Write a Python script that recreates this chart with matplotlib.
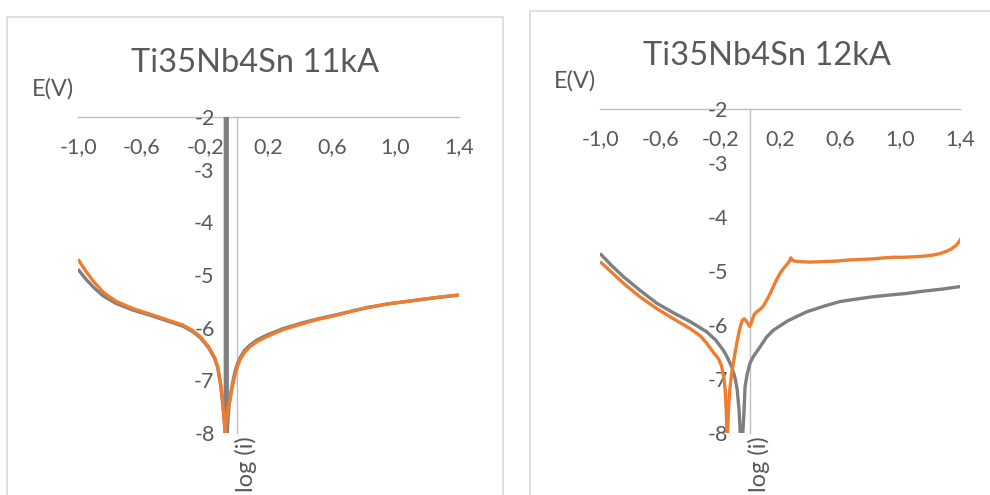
import matplotlib
matplotlib.use("Agg")
import matplotlib.pyplot as plt
from matplotlib.patches import Rectangle
from matplotlib.ticker import FixedLocator, FuncFormatter

plt.rcParams["font.family"] = ["Lato", "DejaVu Sans"]
plt.rcParams["axes.unicode_minus"] = False

# ---- data -----------------------------------------------------------------
x_ticks = [-1.0, -0.6, -0.2, 0.2, 0.6, 1.0, 1.4]
y_ticks = [-8, -7, -6, -5, -4, -3, -2]
titles = ["Ti35Nb4Sn 11kA", "Ti35Nb4Sn 12kA"]

# 11kA, grey series (includes the vertical trace at the corrosion potential)
grey11_x = [-1.0, -0.95, -0.9, -0.84, -0.76, -0.66, -0.55, -0.45, -0.34, -0.28,
            -0.23, -0.18, -0.14, -0.12, -0.10, -0.09, -0.08, -0.072, -0.072,
            -0.060, -0.060, -0.055, -0.047, -0.035, -0.022, -0.008, 0.008, 0.025,
            0.05, 0.083, 0.13, 0.19, 0.29, 0.40, 0.50, 0.62, 0.72, 0.82, 0.95,
            1.05, 1.15, 1.28, 1.4]
grey11_y = [-4.89, -5.08, -5.24, -5.40, -5.54, -5.66, -5.76, -5.86, -5.97, -6.07,
            -6.19, -6.37, -6.58, -6.76, -7.12, -7.40, -7.72, -8.0, -2.0,
            -2.0, -8.0, -7.72, -7.45, -7.20, -6.98, -6.80, -6.66, -6.55,
            -6.43, -6.33, -6.23, -6.14, -6.02, -5.92, -5.84, -5.76, -5.69, -5.62,
            -5.55, -5.51, -5.47, -5.42, -5.38]

# 11kA, orange series
orange11_x = [-1.0, -0.95, -0.9, -0.84, -0.76, -0.66, -0.55, -0.45, -0.34, -0.28,
              -0.23, -0.18, -0.14, -0.12, -0.10, -0.09, -0.08, -0.074,
              -0.065, -0.055, -0.043, -0.03, -0.015, 0.0, 0.02, 0.05, 0.083,
              0.13, 0.19, 0.29, 0.40, 0.50, 0.62, 0.72, 0.82, 0.95, 1.05, 1.15,
              1.28, 1.4]
orange11_y = [-4.70, -4.93, -5.13, -5.33, -5.50, -5.63, -5.74, -5.84, -5.95, -6.05,
              -6.17, -6.35, -6.56, -6.74, -7.10, -7.37, -7.70, -8.0,
              -7.75, -7.55, -7.37, -7.15, -6.95, -6.78, -6.61, -6.47, -6.36,
              -6.26, -6.17, -6.04, -5.94, -5.85, -5.77, -5.69, -5.62, -5.55,
              -5.51, -5.47, -5.42, -5.38]

# 12kA, grey series
grey12_x = [-1.0, -0.92, -0.844, -0.73, -0.622, -0.51, -0.4, -0.289, -0.23, -0.178,
            -0.15, -0.122, -0.10, -0.085, -0.072, -0.065, -0.048, -0.04, -0.033,
            -0.02, 0.0, 0.022, 0.067, 0.11, 0.156, 0.25, 0.378, 0.5, 0.6, 0.72,
            0.822, 0.93, 1.044, 1.15, 1.28, 1.41]
grey12_y = [-4.67, -4.90, -5.10, -5.36, -5.59, -5.77, -5.93, -6.12, -6.27, -6.46,
            -6.60, -6.77, -6.97, -7.20, -7.60, -8.0, -8.0, -7.60, -7.14,
            -6.92, -6.70, -6.58, -6.40, -6.22, -6.09, -5.92, -5.75, -5.64, -5.56,
            -5.51, -5.47, -5.44, -5.41, -5.37, -5.33, -5.28]

# 12kA, orange series
orange12_x = [-1.0, -0.93, -0.844, -0.74, -0.622, -0.51, -0.4, -0.33, -0.289, -0.25,
              -0.21, -0.19, -0.175, -0.165, -0.158, -0.153,
              -0.150, -0.143, -0.135, -0.125, -0.112, -0.100, -0.088, -0.075,
              -0.062, -0.050, -0.038, -0.025, -0.013, -0.003, 0.006, 0.015,
              0.028, 0.045, 0.060, 0.078, 0.092, 0.108, 0.122, 0.140, 0.158,
              0.178, 0.200, 0.222, 0.244, 0.258, 0.268, 0.272, 0.280, 0.295,
              0.33, 0.40, 0.49, 0.58, 0.66, 0.74, 0.82, 0.90, 0.96, 1.03, 1.10,
              1.16, 1.22, 1.27, 1.31, 1.34, 1.37, 1.39, 1.41]
orange12_y = [-4.82, -5.00, -5.22, -5.46, -5.69, -5.88, -6.06, -6.20, -6.33, -6.48,
              -6.62, -6.75, -6.95, -7.20, -7.60, -8.0,
              -8.00, -7.55, -7.20, -6.95, -6.72, -6.52, -6.33, -6.15,
              -6.00, -5.90, -5.88, -5.92, -5.97, -6.02, -5.98, -5.90,
              -5.80, -5.75, -5.72, -5.68, -5.63, -5.55, -5.48, -5.38, -5.27,
              -5.15, -5.04, -4.95, -4.88, -4.83, -4.79, -4.75, -4.79, -4.81,
              -4.82, -4.83, -4.82, -4.81, -4.79, -4.78, -4.77, -4.75, -4.74,
              -4.74, -4.73, -4.72, -4.70, -4.67, -4.63, -4.59, -4.53, -4.47,
              -4.38]

# ---- style ----------------------------------------------------------------
W, H = 990, 495
GREY = "#7F7F7F"
ORANGE = "#ED7D31"
AXIS = "#BFBFBF"
TEXT = "#595959"
FRAME = "#D9D9D9"

fig = plt.figure(figsize=(W / 100, H / 100), dpi=100)


def fx(px):
    return px / W


def fy(py):
    return 1 - py / H


# chart frames
fig.patches.append(Rectangle((fx(7), fy(520)), fx(503 - 7), fy(17) - fy(520),
                             transform=fig.transFigure, fill=False,
                             edgecolor=FRAME, lw=1.2))
fig.patches.append(Rectangle((fx(530), fy(520)), fx(1010 - 530), fy(11) - fy(520),
                             transform=fig.transFigure, fill=False,
                             edgecolor=FRAME, lw=1.2))

panels = [
    dict(box=(78, 459, 117, 433), title=(255, 63), ev=(53, 89), logi=(246, 436),
         series=[(grey11_x, grey11_y, GREY), (orange11_x, orange11_y, ORANGE)]),
    dict(box=(600, 960, 109.3, 433.3), title=(767, 56), ev=(575, 81), logi=(759, 436),
         series=[(grey12_x, grey12_y, GREY), (orange12_x, orange12_y, ORANGE)]),
]

for title, p in zip(titles, panels):
    x0, x1, y0, y1 = p["box"]
    ax = fig.add_axes([fx(x0), fy(y1), fx(x1 - x0), fy(y0) - fy(y1)])
    ax.patch.set_alpha(0)
    ax.set_xlim(-1.0, 1.4)
    ax.set_ylim(-8, -2)

    for xs, ys, c in p["series"]:
        ax.plot(xs, ys, color=c, lw=2.4, solid_joinstyle="round",
                solid_capstyle="butt")

    for s in ("bottom", "right"):
        ax.spines[s].set_visible(False)
    ax.spines["top"].set_color(AXIS)
    ax.spines["top"].set_linewidth(1.0)
    ax.spines["left"].set_color(AXIS)
    ax.spines["left"].set_linewidth(1.0)
    ax.spines["left"].set_position(("data", 0))
    ax.spines["left"].set_zorder(0.5)
    ax.spines["top"].set_zorder(0.5)

    ax.xaxis.set_ticks_position("top")
    ax.xaxis.set_major_locator(FixedLocator(x_ticks))
    ax.xaxis.set_major_formatter(FuncFormatter(lambda v, _: f"{v:.1f}".replace(".", ",")))
    ax.tick_params(axis="x", length=0, pad=-29, labelsize=15.5, labelcolor=TEXT)

    ax.yaxis.set_major_locator(FixedLocator(y_ticks))
    ax.yaxis.set_major_formatter(FuncFormatter(lambda v, _: f"{int(round(v))}"))
    ax.tick_params(axis="y", length=0, pad=16, labelsize=15.5, labelcolor=TEXT)

    fig.text(fx(p["title"][0]), fy(p["title"][1]), title, ha="center", va="center",
             fontsize=23.5, color=TEXT)
    fig.text(fx(p["ev"][0]), fy(p["ev"][1]), "E(V)", ha="center", va="center",
             fontsize=17, color=TEXT)
    fig.text(fx(p["logi"][0]), fy(p["logi"][1]), "log (i)", ha="center", va="top",
             rotation=90, fontsize=17, color=TEXT)

fig.savefig("out.png", dpi=100)
